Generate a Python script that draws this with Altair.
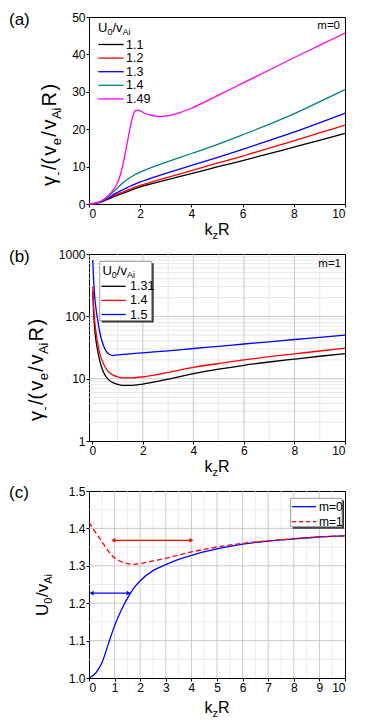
import altair as alt
import pandas as pd

FONT = "Liberation Sans"

# ---------------- panel (a) data : gamma/(ve/vAi R) vs kzR, m=0 ----------------
A_LABELS = ["1.1", "1.2", "1.3", "1.4", "1.49"]
A_COLORS = ["#000000", "#ff0000", "#0000ff", "#008080", "#ff00ff"]
K_A = [0, 0.25, 0.5, 0.75, 1, 1.25, 1.5, 1.75, 2, 2.5, 3, 4, 5, 6, 7, 8, 9, 10]
G_A_11 = [0, 0.15, 0.6, 1.3, 2.0, 2.7, 3.3, 4.0, 4.6, 5.5, 6.4, 8.1, 9.9, 11.6, 13.4, 15.2, 17.0, 18.9]
G_A_12 = [0, 0.15, 0.65, 1.45, 2.3, 3.0, 3.7, 4.4, 5.0, 6.0, 7.0, 8.9, 10.9, 12.8, 14.9, 16.9, 19.0, 21.1]
G_A_13 = [0, 0.17, 0.7, 1.6, 2.7, 3.6, 4.4, 5.2, 5.9, 7.1, 8.2, 10.3, 12.4, 14.6, 16.9, 19.2, 21.7, 24.3]
G_A_14 = [0, 0.2, 0.8, 2.0, 3.6, 5.2, 6.6, 7.7, 8.5, 9.9, 11.1, 13.5, 15.9, 18.5, 21.2, 24.1, 27.3, 30.6]
K_A_149 = [0, 0.25, 0.5, 0.75, 1, 1.1, 1.2, 1.3, 1.4, 1.5, 1.6, 1.7, 1.8, 1.9, 2.0, 2.2,
           2.4, 2.6, 2.8, 3.0, 3.5, 4, 5, 6, 7, 8, 9, 10]
G_A_149 = [0, 0.2, 0.9, 2.2, 4.3, 5.5, 7.3, 9.8, 13.0, 16.6, 20.2, 23.2, 24.9, 25.1, 24.9, 24.2,
           23.8, 23.5, 23.4, 23.5, 24.3, 25.6, 28.9, 32.3, 35.7, 39.1, 42.4, 45.7]

# ---------------- panel (b) data : log scale, m=1 ----------------
B_LABELS = ["1.31", "1.4", "1.5"]
B_COLORS = ["#000000", "#ff0000", "#0000ff"]
K_B = [0.02, 0.05, 0.1, 0.15, 0.2, 0.3, 0.4, 0.5, 0.6, 0.8, 1.0, 1.2, 1.5, 2, 3, 4, 5, 6, 7, 8, 9, 10]
G_B_131 = [250, 120, 60, 40, 30, 19, 14, 11.5, 10, 8.7, 8.1, 7.8, 7.8, 8.2, 9.8, 12, 14.2, 16.4, 18.5, 20.6, 22.9, 25.2]
G_B_14 = [300, 150, 80, 55, 40, 25, 19, 15.5, 13.5, 11.5, 10.7, 10.3, 10.3, 10.7, 12.6, 15.2, 17.5, 20, 22.5, 25, 27.8, 30.8]
G_B_15 = [800, 400, 200, 130, 95, 55, 38, 30, 26, 23.5, 24, 24.5, 25, 26, 28, 30.5, 33, 36, 39, 42.5, 46, 50]

# ---------------- panel (c) data : threshold U0/vAi vs kzR ----------------
C_LABELS = ["m=0", "m=1"]
C_COLORS = ["#0000ff", "#ff0000"]
K_C = [0, 0.25, 0.5, 0.75, 1, 1.25, 1.5, 1.75, 2, 2.5, 3, 3.5, 4, 5, 6, 7, 8, 9, 10]
U_M0 = [1.0, 1.012, 1.04, 1.09, 1.14, 1.18, 1.213, 1.24, 1.26, 1.287, 1.303, 1.317, 1.328,
        1.345, 1.358, 1.366, 1.372, 1.377, 1.380]
U_M1 = [1.416, 1.39, 1.365, 1.34, 1.321, 1.311, 1.306, 1.304, 1.306, 1.313, 1.32, 1.329, 1.337,
        1.35, 1.36, 1.367, 1.372, 1.377, 1.380]
ARROW_X1 = [0.95, 0.1]
ARROW_X2 = [4.0, 1.55]
ARROW_Y = [1.368, 1.227]
ARROW_COLORS = ["#ff0000", "#0000ff"]

W = 256
H = 187

# ---------- helpers ----------
CW = {"0": .556, "1": .556, "2": .556, "3": .556, "4": .556, "5": .556, "6": .556, "7": .556,
      "8": .556, "9": .556, ".": .278, "=": .584, "m": .833, "U": .722, "v": .5, "A": .667,
      "i": .222, "e": .556, "R": .722, "k": .5, "z": .5, "/": .278, "(": .333, ")": .333,
      "γ": .5, "-": .333, "_": .556}


def tw(s, size):
    return sum(CW.get(c, .556) for c in s) * size


def txt(s, x, y, size, align="left", baseline="alphabetic", angle=None, color="black"):
    kw = dict(align=align, baseline=baseline, fontSize=size, font=FONT, color=color)
    if angle is not None:
        kw["angle"] = angle
    return alt.Chart(pd.DataFrame({"t": [s]})).mark_text(**kw).encode(
        text="t:N", x=alt.value(x), y=alt.value(y))


def rich(pieces, cx, cy, rotate=False):
    """pieces: (text, size, shift, gap_after). Centred on (cx, cy) along the text direction."""
    total = sum(tw(t, s) + g for t, s, _, g in pieces) - pieces[-1][3]
    out = []
    pos = 0.0
    for t, s, sh, g in pieces:
        if rotate:
            out.append(txt(t, cx + sh, cy + total / 2 - pos, s, angle=270))
        else:
            out.append(txt(t, cx - total / 2 + pos, cy + sh, s))
        pos += tw(t, s) + g
    return out


def hline(x1, x2, y, color, width=1.3, dash=None):
    kw = dict(color=color, strokeWidth=width)
    if dash:
        kw["strokeDash"] = dash
    return alt.Chart(pd.DataFrame({"a": [0]})).mark_rule(**kw).encode(
        x=alt.value(x1), x2=alt.value(x2), y=alt.value(y))


def box(x1, x2, y1, y2, fill, stroke=None):
    kw = dict(fill=fill)
    if stroke:
        kw["stroke"] = stroke
        kw["strokeWidth"] = 1
    return alt.Chart(pd.DataFrame({"a": [0]})).mark_rect(**kw).encode(
        x=alt.value(x1), x2=alt.value(x2), y=alt.value(y1), y2=alt.value(y2))


def axis(values, fmt=None):
    kw = dict(values=values, grid=False, title=None, labelFontSize=12, labelFont=FONT,
              labelColor="black", domainColor="black", tickColor="black", tickSize=3,
              labelPadding=1)
    if fmt:
        kw["format"] = fmt
    return alt.Axis(**kw)


YT_A = [("γ", 20, 0, 0.5), ("-", 12, 6, 1.5), ("/(", 20, 0, 2), ("v", 20, 0, 0.5),
        ("e", 13, 5, 1.5), ("/", 20, 0, 1.5), ("v", 20, 0, 0.5), ("Ai", 13, 5, 1),
        ("R", 20, 0, 1.5), (")", 20, 0, 0)]
XT = [("k", 16, 0, 0), ("z", 11, 4, 0), ("R", 16, 0, 0)]
UT_SMALL = [("U", 13, 0), ("0", 9, 3), ("/v", 13, 0), ("Ai", 9, 3)]

# ================= panel (a) =================
rows = []
for lab, ys in zip(A_LABELS[:4], [G_A_11, G_A_12, G_A_13, G_A_14]):
    rows += [{"k": k, "g": g, "s": lab} for k, g in zip(K_A, ys)]
rows += [{"k": k, "g": g, "s": "1.49"} for k, g in zip(K_A_149, G_A_149)]
df_a = pd.DataFrame(rows)

xa = alt.X("k:Q", scale=alt.Scale(domain=[0, 10], nice=False), axis=axis([0, 2, 4, 6, 8, 10]))
ya = alt.Y("g:Q", scale=alt.Scale(domain=[0, 50], nice=False), axis=axis([0, 10, 20, 30, 40, 50]))
lines_a = alt.Chart(df_a).mark_line(strokeWidth=1.3, interpolate="monotone").encode(
    x=xa, y=ya,
    color=alt.Color("s:N", scale=alt.Scale(domain=A_LABELS, range=A_COLORS), legend=None),
    detail="s:N")

layers_a = [lines_a]
layers_a.append(alt.Chart(pd.DataFrame({"t": ["."]})).mark_text(
    fontSize=1, opacity=0, align="left", baseline="top").encode(
    text="t:N", x=alt.value(-80), y=alt.value(-8)))
layers_a.append(txt("(a)", -80, 3, 17, baseline="middle"))
layers_a += rich(YT_A, -33, 118, rotate=True)
layers_a += rich(XT, 128, H + 31)
layers_a.append(txt("m=0", 251, 12, 11.5, align="right"))
# legend
pos = 9
for t, s, sh in UT_SMALL:
    layers_a.append(txt(t, pos, 15 + sh, s))
    pos += tw(t, s)
for i, (lab, col) in enumerate(zip(A_LABELS, A_COLORS)):
    yy = 27.5 + 13.6 * i
    layers_a.append(hline(9.3, 34.7, yy, col))
    layers_a.append(txt(lab, 37, yy, 12.5, baseline="middle"))
panel_a = alt.layer(*layers_a).properties(width=W, height=H)

# ================= panel (b) =================
rows = []
for lab, ys in zip(B_LABELS, [G_B_131, G_B_14, G_B_15]):
    rows += [{"k": k, "g": g, "s": lab} for k, g in zip(K_B, ys)]
df_b = pd.DataFrame(rows)
xb_scale = alt.Scale(domain=[-0.13, 10], nice=False)
yb_scale = alt.Scale(type="log", domain=[1, 1000], nice=False)
xb_axis = axis([0, 2, 4, 6, 8, 10])
yb_axis = axis([1, 10, 100, 1000], "d")

B_GRID_X_MAJOR = [2, 4, 6, 8]
B_GRID_X_MINOR = [1, 3, 5, 7, 9]
B_GRID_Y_MAJOR = [10, 100]
B_GRID_Y_MINOR = [m * d for d in [1, 10, 100] for m in range(2, 10)]

gb = []
gb.append(alt.Chart(pd.DataFrame({"k": B_GRID_X_MINOR})).mark_rule(color="#e2e2e2", strokeWidth=0.8)
          .encode(x=alt.X("k:Q", scale=xb_scale, axis=xb_axis)))
gb.append(alt.Chart(pd.DataFrame({"g": B_GRID_Y_MINOR})).mark_rule(color="#e2e2e2", strokeWidth=0.8)
          .encode(y=alt.Y("g:Q", scale=yb_scale, axis=yb_axis)))
gb.append(alt.Chart(pd.DataFrame({"k": B_GRID_X_MAJOR})).mark_rule(color="#bdbdbd", strokeWidth=0.8)
          .encode(x=alt.X("k:Q", scale=xb_scale, axis=xb_axis)))
gb.append(alt.Chart(pd.DataFrame({"g": B_GRID_Y_MAJOR})).mark_rule(color="#bdbdbd", strokeWidth=0.8)
          .encode(y=alt.Y("g:Q", scale=yb_scale, axis=yb_axis)))
lines_b = alt.Chart(df_b).mark_line(strokeWidth=1.3, interpolate="monotone", clip=True).encode(
    x=alt.X("k:Q", scale=xb_scale, axis=xb_axis),
    y=alt.Y("g:Q", scale=yb_scale, axis=yb_axis),
    color=alt.Color("s:N", scale=alt.Scale(domain=B_LABELS, range=B_COLORS), legend=None),
    detail="s:N")
layers_b = gb + [lines_b]
layers_b.append(txt("(b)", -80, 3, 17, baseline="middle"))
layers_b += rich(YT_A, -46, 116, rotate=True)
layers_b += rich(XT, 128, H + 31)
layers_b.append(txt("m=1", 252, 13, 11.5, align="right"))
layers_b.append(box(12.7, 64.7, 9.3, 68.6, "#333333"))
layers_b.append(box(10.7, 62.7, 7.3, 66.6, "white", "#9a9a9a"))
pos = 13.4
for t, s, sh in UT_SMALL:
    layers_b.append(txt(t, pos, 20.5 + sh, s))
    pos += tw(t, s)
for i, (lab, col) in enumerate(zip(B_LABELS, B_COLORS)):
    yy = 32.3 + 14.1 * i
    layers_b.append(hline(12.4, 36.7, yy, col))
    layers_b.append(txt(lab, 41, yy, 12.5, baseline="middle"))
panel_b = alt.layer(*layers_b).properties(width=W, height=H)

# ================= panel (c) =================
df_c0 = pd.DataFrame({"k": K_C, "u": U_M0})
df_c1 = pd.DataFrame({"k": K_C, "u": U_M1})
xc_scale = alt.Scale(domain=[0, 10], nice=False)
yc_scale = alt.Scale(domain=[1.0, 1.5], nice=False)
xc_axis = axis(list(range(0, 11)))
yc_axis = axis([1.0, 1.1, 1.2, 1.3, 1.4, 1.5], ".1f")

C_GRID_X_MAJOR = list(range(1, 10))
C_GRID_X_MINOR = [i + 0.5 for i in range(0, 10)]
C_GRID_Y_MAJOR = [1.1, 1.2, 1.3, 1.4]
C_GRID_Y_MINOR = [1.05, 1.15, 1.25, 1.35, 1.45]

gc = []
gc.append(alt.Chart(pd.DataFrame({"k": C_GRID_X_MINOR})).mark_rule(color="#e6e6e6", strokeWidth=0.8)
          .encode(x=alt.X("k:Q", scale=xc_scale, axis=xc_axis)))
gc.append(alt.Chart(pd.DataFrame({"u": C_GRID_Y_MINOR})).mark_rule(color="#e6e6e6", strokeWidth=0.8)
          .encode(y=alt.Y("u:Q", scale=yc_scale, axis=yc_axis)))
gc.append(alt.Chart(pd.DataFrame({"k": C_GRID_X_MAJOR})).mark_rule(color="#bdbdbd", strokeWidth=0.8)
          .encode(x=alt.X("k:Q", scale=xc_scale, axis=xc_axis)))
gc.append(alt.Chart(pd.DataFrame({"u": C_GRID_Y_MAJOR})).mark_rule(color="#bdbdbd", strokeWidth=0.8)
          .encode(y=alt.Y("u:Q", scale=yc_scale, axis=yc_axis)))
line_c0 = alt.Chart(df_c0).mark_line(color=C_COLORS[0], strokeWidth=1.3, interpolate="monotone").encode(
    x=alt.X("k:Q", scale=xc_scale, axis=xc_axis), y=alt.Y("u:Q", scale=yc_scale, axis=yc_axis))
line_c1 = alt.Chart(df_c1).mark_line(color=C_COLORS[1], strokeWidth=1.3, strokeDash=[5, 3],
                                     interpolate="monotone").encode(
    x=alt.X("k:Q", scale=xc_scale, axis=xc_axis), y=alt.Y("u:Q", scale=yc_scale, axis=yc_axis))
df_arr = pd.DataFrame({"x1": ARROW_X1, "x2": ARROW_X2, "y": ARROW_Y, "c": ARROW_COLORS})
arr_shaft = alt.Chart(df_arr).mark_rule(strokeWidth=1.2).encode(
    x=alt.X("x1:Q", scale=xc_scale, axis=xc_axis), x2="x2:Q",
    y=alt.Y("y:Q", scale=yc_scale, axis=yc_axis), color=alt.Color("c:N", scale=None))
arr_l = alt.Chart(df_arr).mark_point(shape="triangle-left", filled=True, size=22, opacity=1).encode(
    x=alt.X("x1:Q", scale=xc_scale, axis=xc_axis), y=alt.Y("y:Q", scale=yc_scale, axis=yc_axis),
    color=alt.Color("c:N", scale=None))
arr_r = alt.Chart(df_arr).mark_point(shape="triangle-right", filled=True, size=22, opacity=1).encode(
    x=alt.X("x2:Q", scale=xc_scale, axis=xc_axis), y=alt.Y("y:Q", scale=yc_scale, axis=yc_axis),
    color=alt.Color("c:N", scale=None))

layers_c = gc + [line_c0, line_c1, arr_shaft, arr_l, arr_r]
layers_c.append(txt("(c)", -80, 2, 17, baseline="middle"))
UT_BIG = [("U", 17, 0, 0), ("0", 11, 4, 0.5), ("/", 17, 0, 0), ("v", 17, 0, 0), ("Ai", 11, 4, 0)]
layers_c += rich(UT_BIG, -41, 104, rotate=True)
layers_c += rich(XT, 128, H + 35)
layers_c.append(box(203.7, 255, 9.3, 37.7, "#333333"))
layers_c.append(box(201.7, 253, 7.3, 35.7, "white", "#9a9a9a"))
for i, (lab, col) in enumerate(zip(C_LABELS, C_COLORS)):
    yy = 15.7 + 15 * i
    layers_c.append(hline(203, 227, yy, col, dash=[4, 3] if i == 1 else None))
    layers_c.append(txt(lab, 230, yy, 12, baseline="middle"))
panel_c = alt.layer(*layers_c).properties(width=W, height=H)

chart = alt.vconcat(panel_a, panel_b, panel_c, spacing=50, bounds="flush").resolve_scale(
    color="independent"
).properties(
    padding={"left": 0, "top": 0, "right": 4, "bottom": 4}
).configure_view(stroke="black", strokeWidth=1)

chart.save("out.html", embed_options={"renderer": "svg", "actions": False})
